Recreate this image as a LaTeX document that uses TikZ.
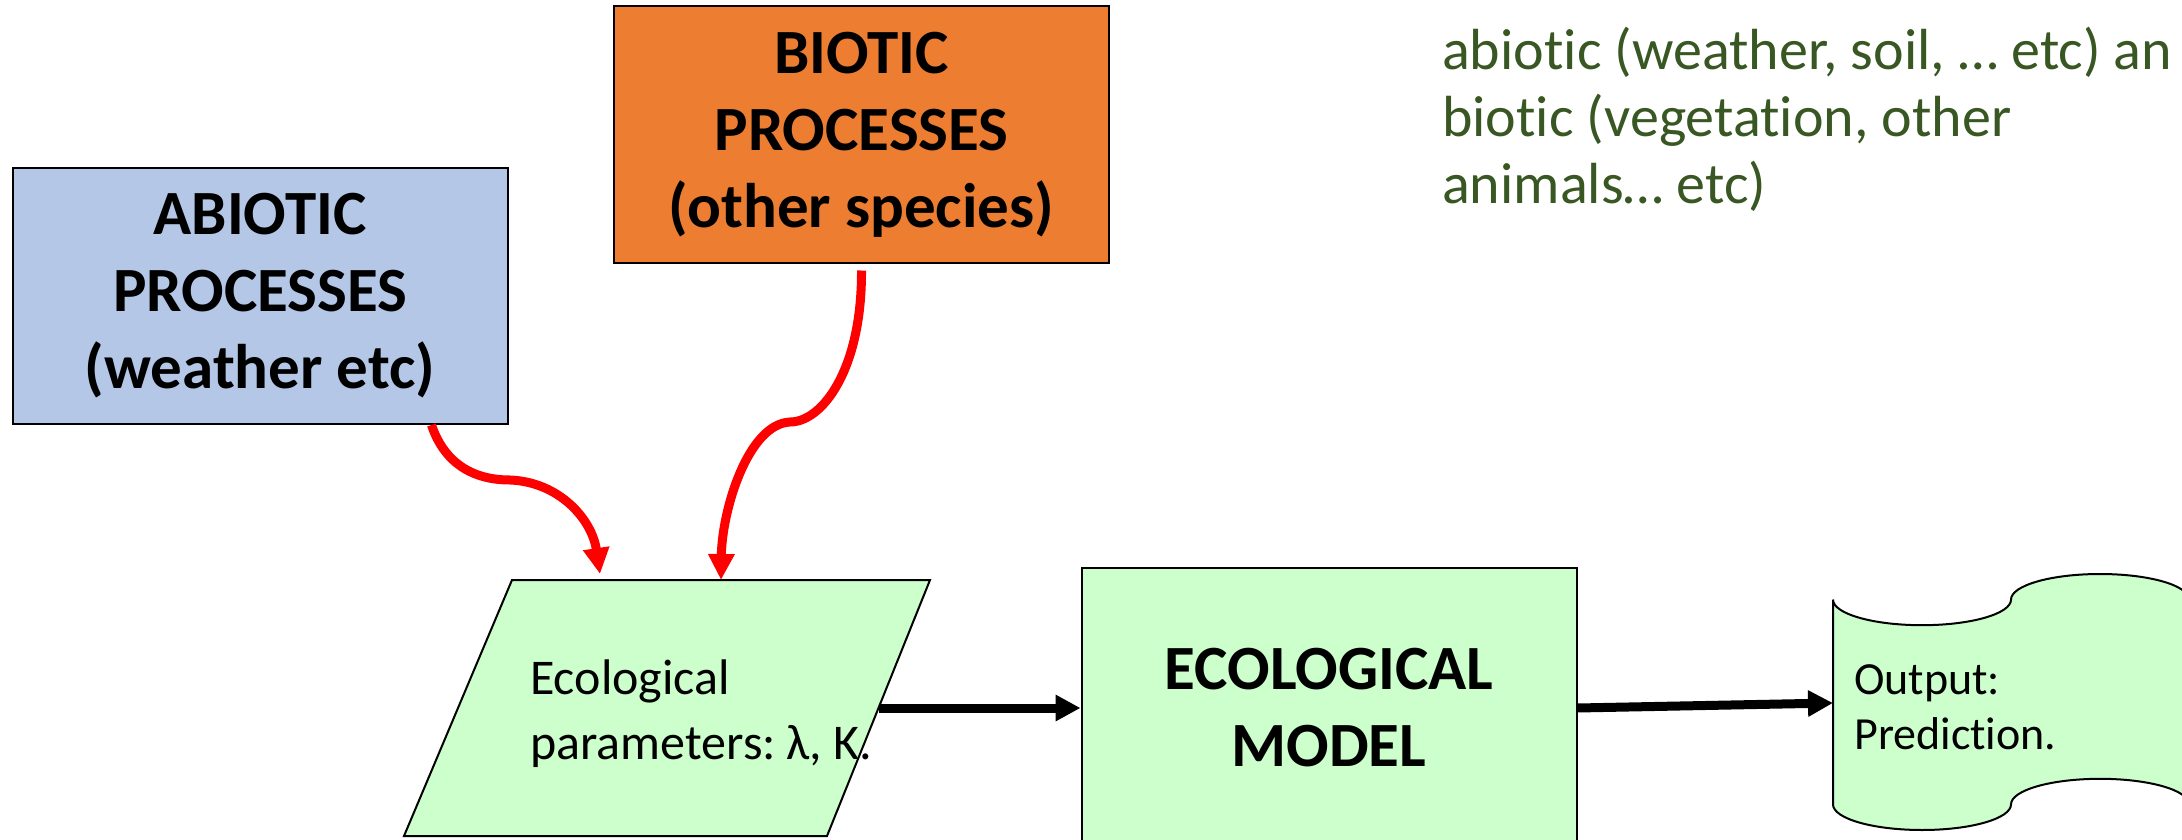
\documentclass[tikz,border=0pt]{standalone}
\usepackage{fontspec}
\setmainfont{Carlito}[Ligatures={NoCommon,NoRare,NoContextual},Contextuals={NoAlternate}]
\newcommand{\tinolig}{t\kern0pt i}
\usetikzlibrary{arrows.meta,calc}
\definecolor{abioblue}{RGB}{180,199,231}
\definecolor{bioorange}{RGB}{237,125,49}
\definecolor{lightgreen}{RGB}{204,255,204}
\definecolor{olivetext}{RGB}{56,87,35}
\tikzset{
  procbox/.style={draw=black, line width=2pt, inner sep=0pt, align=center,
    font=\fontsize{63}{77}\selectfont\bfseries, minimum width=495pt, minimum height=256pt},
  redarrow/.style={draw=red, line width=9pt, -{Triangle[length=26pt,width=25pt]}},
  blackarrow/.style={draw=black, line width=9pt, -{Triangle[length=25pt,width=25pt]}},
  shapeline/.style={draw=black, line width=2pt, fill=lightgreen},
  plaintext/.style={anchor=west, align=left, inner sep=0pt},
}
\begin{document}
\begin{tikzpicture}[x=1pt,y=-1pt]
\useasboundingbox (0,0) rectangle (2182,840);
\clip (0,0) rectangle (2182,840);

% boxes
\node[procbox, fill=abioblue] (abio) at (260,296) {ABIOTIC\\PROCESSES\\(weather etc)};
\node[procbox, fill=bioorange] (bio) at (861.5,134.5) {BIOTIC\\PROCESSES\\(other species)};
\node[procbox, fill=lightgreen, minimum height=280pt] (model) at (1329,708) {ECOLOGICAL\\MODEL};

% parallelogram (data)
\coordinate (pTL) at (512,580);
\coordinate (pTR) at (930,580);
\coordinate (pBR) at (827,836);
\coordinate (pBL) at (404,836);
\draw[shapeline] (pTL) -- (pTR) -- (pBR) -- (pBL) -- cycle;
\node[plaintext, font=\fontsize{50}{65}\selectfont] (params) at (530,714) {Ecological\\parameters:\kern-0.1em{} λ, K.};

% punched tape (output)
\draw[shapeline] (1833,599.6)
  .. controls (1833,613.7) and (1872.8,625.2) .. (1922,625.2)
  .. controls (1971.2,625.2) and (2011,613.7) .. (2011,599.6)
  .. controls (2011,585.5) and (2050.8,574) .. (2100,574)
  .. controls (2149.2,574) and (2189,585.5) .. (2189,599.6)
  -- (2189,804.4)
  .. controls (2189,790.3) and (2149.2,778.8) .. (2100,778.8)
  .. controls (2050.8,778.8) and (2011,790.3) .. (2011,804.4)
  .. controls (2011,818.5) and (1971.2,830) .. (1922,830)
  .. controls (1872.8,830) and (1833,818.5) .. (1833,804.4)
  -- cycle;
\coordinate (tapeW) at (1833,703);
\node[plaintext, font=\fontsize{46}{55}\selectfont] (out) at (1854,707) {Output:\\Predic\tinolig on.};

% note text
\node[anchor=north west, align=left, inner sep=0pt, text=olivetext,
      font=\fontsize{58}{67}\selectfont] (note) at (1442,27)
  {abio\tinolig c (weather, soil, … etc) an\\bio\tinolig c (vegeta\tinolig on, other\\animals… etc)};

% connectors
\coordinate (a1e) at (600,574);
\coordinate (a2e) at (721,580);
\draw[redarrow] ($(abio.south west)!0.845!(abio.south east)$)
  .. controls (445,465) and (475,480) .. (510,480)
  .. controls (560,482) and (592,520) .. (a1e);
\draw[redarrow] ([yshift=-7pt]bio.south)
  .. controls (862,370) and (822,422) .. (790,422)
  .. controls (748,424) and (722,510) .. (a2e);

\coordinate (pR) at ($(pTR)!0.5!(pBR)$);
\draw[blackarrow] (pR) -- (model.west);
\draw[blackarrow] (model.east) -- (tapeW);
\end{tikzpicture}
\end{document}
